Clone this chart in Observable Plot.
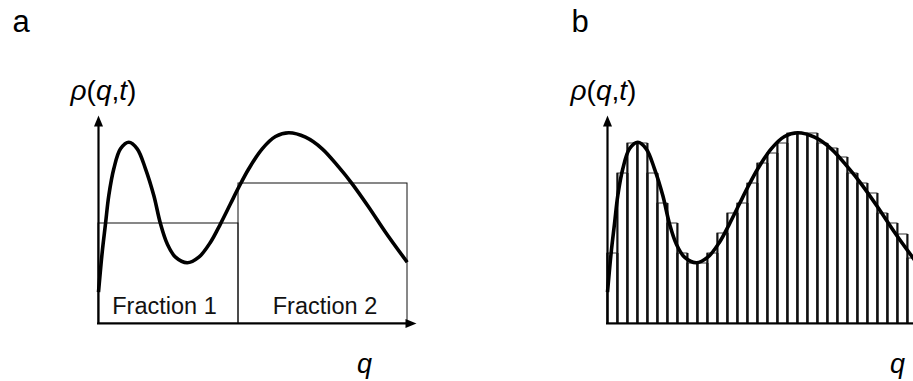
<!DOCTYPE html>
<html><head><meta charset="utf-8">
<script src="https://cdn.jsdelivr.net/npm/d3@7"></script>
<script src="https://cdn.jsdelivr.net/npm/@observablehq/plot@0.6"></script>
<style>
html,body{margin:0;padding:0;background:#fff;overflow:hidden}
#wrap{position:relative;width:913px;height:381px;overflow:hidden;background:#fff}
#wrap svg{position:absolute;top:0}
</style></head><body><div id="wrap"></div>
<script>
// ---- data ----
// density curve rho(q,t): q positions and values
const curveQ = [0, 0.37, 0.7, 1.03, 1.53, 2.2, 3.03, 3.87, 4.7, 5.53, 6.2, 6.87, 7.7, 8.87, 10.03, 11.2, 12.2, 13.2, 14.03, 15.03, 16.37, 17.7, 19.03, 20.7, 22.37, 24.03, 25.37, 27.03, 28.7, 30.87];
const curveRho = [3.13, 7.13, 9.97, 12.8, 15.47, 17.47, 18.13, 17.47, 15.47, 12.8, 9.97, 7.97, 6.63, 6.07, 6.63, 8.13, 9.97, 11.97, 13.63, 15.47, 17.47, 18.7, 19.07, 18.63, 17.47, 15.63, 13.97, 11.63, 9.13, 6.13];
// panel a: two fractions
const fractionNames = ["Fraction 1", "Fraction 2"];
const fractionStart = [0, 14];
const fractionEnd = [14, 30.9];
const fractionHeight = [10, 14];
// panel b: fine bins (unit width)
const binHeights = [7, 15, 18, 18, 15, 12, 10, 7, 6, 6, 7, 9, 11, 12, 14, 16, 17, 18, 19, 19, 19, 18, 17.5, 16.6, 15, 14, 13, 11, 10, 8.9, 6.5];
const binWidth = 1;
// texts
const panelNames = ["a", "b"];
const yLabel = "ρ(q,t)";
const xLabel = "q";

// ---- layout ----
const FONT = "'Liberation Sans', Arial, sans-serif";
const yTop = 20.8;
const fractionLabelDx = [-4, 2];
const curveData = curveQ.map((q, i) => ({q, rho: curveRho[i]}));
const fractions = fractionNames.map((name, i) => ({name, x1: fractionStart[i], x2: fractionEnd[i], h: fractionHeight[i]}));
const bins = binHeights.map((h, i) => ({x1: i * binWidth, x2: (i + 1) * binWidth, h}));

const headLen = 11, headW = 9;
const arrowHead = {draw(ctx) { ctx.moveTo(0, 0); ctx.lineTo(headW / 2, headLen); ctx.lineTo(-headW / 2, headLen); ctx.closePath(); }};

function panel(cfg) {
  const marks = [];
  if (cfg.kind === "a") {
    marks.push(Plot.rect(fractions, {x1: "x1", x2: "x2", y1: 0, y2: "h", fill: "none", stroke: "#111", strokeWidth: 1}));
    fractions.forEach((f, i) => {
      marks.push(Plot.text([f], {x: d => (d.x1 + d.x2) / 2, y: 0, dy: -10, dx: fractionLabelDx[i], text: "name", lineAnchor: "bottom", fontSize: 23.5, fill: "#111"}));
    });
  } else {
    marks.push(Plot.rect(bins, {x1: "x1", x2: "x2", y1: 0, y2: "h", fill: "none", stroke: "#333", strokeWidth: 1}));
    marks.push(Plot.ruleX(bins, {x: "x1", y1: 0, y2: "h", stroke: "#111", strokeWidth: 2}));
    marks.push(Plot.ruleX(bins, {x: "x2", y1: 0, y2: "h", stroke: "#111", strokeWidth: 2}));
  }
  marks.push(Plot.line(curveData, {x: "q", y: "rho", curve: "catmull-rom", stroke: "#000", strokeWidth: 3.6, strokeLinecap: "butt"}));
  // axes with arrowheads
  marks.push(Plot.ruleX([0], {y1: 0, y2: yTop - 0.6, stroke: "#000", strokeWidth: 2.2}));
  marks.push(Plot.ruleY([0], {x1: -0.1, x2: cfg.xEnd - 0.6, stroke: "#000", strokeWidth: 2}));
  marks.push(Plot.dot([0], {x: 0, y: yTop, symbol: arrowHead, fill: "#000", stroke: "none"}));
  marks.push(Plot.dot([0], {x: cfg.xEnd, y: 0, symbol: arrowHead, rotate: 90, fill: "#000", stroke: "none"}));
  // labels
  marks.push(Plot.text([cfg.name], {frameAnchor: "top-left", text: d => d, dx: cfg.letterDx, dy: -84, textAnchor: "start", lineAnchor: "bottom", fontSize: 31, fill: "#000"}));
  marks.push(Plot.text([yLabel], {frameAnchor: "top-left", text: d => d, dx: cfg.yLabDx, dy: -16, textAnchor: "start", lineAnchor: "bottom", fontSize: 28, fill: "#000"}));
  marks.push(Plot.text([xLabel], {frameAnchor: "bottom-left", text: d => d, dx: cfg.xLabDx, dy: 49, textAnchor: "middle", lineAnchor: "bottom", fontSize: 27, fontStyle: "italic", fill: "#000"}));

  const p = Plot.plot({
    width: cfg.width, height: 381,
    marginLeft: 98, marginTop: 115, marginBottom: 58, marginRight: cfg.width - 98 - cfg.xEnd * 10,
    x: {domain: [0, cfg.xEnd], axis: null},
    y: {domain: [0, yTop], axis: null},
    style: {fontFamily: FONT, background: "transparent", overflow: "visible"},
    marks
  });
  p.querySelectorAll("text").forEach(t => {
    if (t.textContent === yLabel) {
      const target = t.querySelector("tspan") || t;
      target.innerHTML = '<tspan font-style="italic">ρ</tspan>(<tspan font-style="italic">q</tspan>,<tspan font-style="italic">t</tspan>)';
    }
  });
  p.style.left = cfg.left + "px";
  return p;
}

const wrap = document.getElementById("wrap");
wrap.appendChild(panel({kind: "a", name: panelNames[0], left: 0, width: 456, xEnd: 31.8, letterDx: -86, yLabDx: -28, xLabDx: 266}));
wrap.appendChild(panel({kind: "b", name: panelNames[1], left: 509, width: 470, xEnd: 33.5, letterDx: -36, yLabDx: -37, xLabDx: 290}));
</script></body></html>
